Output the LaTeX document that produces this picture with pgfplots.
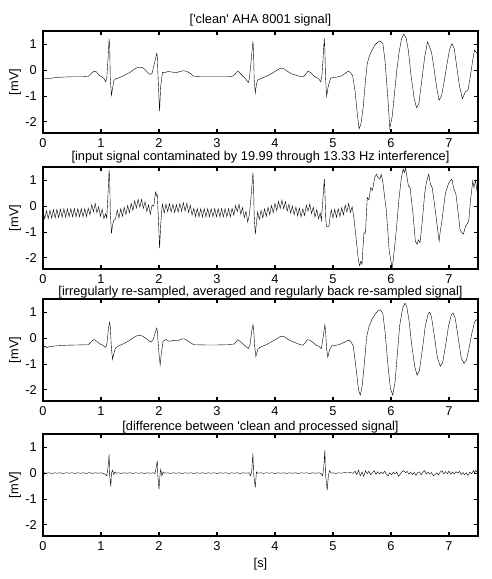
\documentclass[border=0pt]{standalone}
\usepackage{fontspec}
\setmainfont{Liberation Sans}
\usepackage{pgfplots}
\pgfplotsset{compat=1.18}
\newcommand\fs{\fontsize{12.8}{15}\selectfont}
\pgfplotsset{ecg/.style={scale only axis, width=435pt, height=102pt, anchor=north west,
  xmin=0, xmax=7.5, ymin=-2.43, ymax=1.52,
  xtick={0,1,2,3,4,5,6,7}, xticklabels={0,1,2,3,4,5,6,7},
  ytick={-2,-1,0,1}, yticklabels={-2,-1,0,1},
  tick align=inside, major tick length=4pt,
  axis line style={line width=1.1pt},
  every tick/.style={black, line width=1.1pt},
  tick label style={font=\fs, inner sep=0pt},
  xticklabel style={yshift=-5.5pt}, yticklabel style={xshift=-6pt},
  ylabel={[mV]}, ylabel style={at={(axis description cs:-0.0644,0.5)}, anchor=center, font=\fs},
  every axis title/.style={at={(axis description cs:0.5,1)}, anchor=base, font=\fs, inner sep=0pt},
  cycle list={{black, mark=none, line width=1.15pt}}}}
\begin{document}
\begin{tikzpicture}
\useasboundingbox (0,0) rectangle (491pt,-579pt);
% ---------- plot 1 ----------
\begin{axis}[ecg, at={(43pt,-31pt)}, title style={yshift=7.7pt}, title={[\textquotesingle clean\textquotesingle\ AHA 8001 signal]}]
\addplot coordinates {
(0.00,-0.34)(0.10,-0.32)(0.20,-0.29)(0.30,-0.27)(0.40,-0.26)(0.50,-0.25)(0.60,-0.25)(0.70,-0.25)
(0.78,-0.24)(0.84,-0.10)(0.88,-0.04)(0.92,-0.06)(0.96,-0.18)(1.00,-0.24)(1.05,-0.32)(1.08,-0.44)
(1.10,-0.30)(1.12,0.40)(1.14,1.22)(1.15,0.90)(1.16,-0.30)(1.18,-0.97)(1.20,-0.70)(1.22,-0.40)
(1.25,-0.33)(1.30,-0.30)(1.40,-0.20)(1.50,-0.08)(1.60,0.08)(1.66,0.12)(1.72,0.10)(1.78,-0.02)
(1.84,-0.16)(1.88,-0.12)(1.92,0.25)(1.96,0.65)(1.97,0.55)(1.99,-0.60)(2.01,-1.58)(2.03,-0.60)
(2.06,-0.08)(2.10,-0.10)(2.15,-0.05)(2.20,-0.06)(2.25,-0.08)(2.30,-0.10)(2.35,-0.05)(2.42,-0.02)
(2.48,-0.04)(2.54,-0.12)(2.60,-0.24)(2.70,-0.25)(2.80,-0.25)(3.00,-0.25)(3.20,-0.25)(3.25,-0.24)
(3.30,-0.18)(3.36,-0.03)(3.42,-0.17)(3.48,-0.30)(3.52,-0.42)(3.54,-0.48)(3.56,-0.30)(3.59,0.40)
(3.62,1.12)(3.63,0.70)(3.64,-0.30)(3.66,-0.88)(3.68,-0.55)(3.70,-0.38)(3.80,-0.28)(3.90,-0.18)
(4.00,-0.05)(4.10,0.09)(4.16,0.05)(4.22,-0.05)(4.30,-0.15)(4.40,-0.22)(4.48,-0.26)(4.52,-0.18)
(4.57,-0.03)(4.62,-0.10)(4.68,-0.25)(4.75,-0.32)(4.79,-0.45)(4.81,-0.20)(4.83,0.50)(4.85,1.23)
(4.86,0.80)(4.87,-0.20)(4.89,-1.00)(4.92,-0.60)(4.96,-0.30)(5.05,-0.27)(5.15,-0.22)(5.26,-0.04)
(5.30,-0.08)(5.34,-0.22)(5.38,-0.80)(5.42,-1.70)(5.45,-2.27)(5.48,-2.10)(5.52,-1.45)(5.56,-0.40)
(5.59,0.25)(5.62,0.50)(5.66,0.72)(5.72,0.97)(5.77,1.08)(5.81,1.14)(5.86,1.04)(5.90,0.30)
(5.94,-0.90)(5.98,-2.24)(6.02,-1.80)(6.06,-0.90)(6.10,-0.01)(6.14,0.70)(6.18,1.20)(6.22,1.40)
(6.26,1.25)(6.30,0.77)(6.34,-0.10)(6.40,-1.10)(6.44,-1.45)(6.48,-1.30)(6.53,-0.41)(6.58,0.50)
(6.63,1.10)(6.66,0.95)(6.70,0.68)(6.74,0.10)(6.79,-0.70)(6.83,-1.16)(6.87,-1.00)(6.92,-0.40)
(6.97,0.30)(7.01,0.80)(7.05,1.03)(7.09,0.85)(7.13,0.20)(7.18,-0.60)(7.23,-1.10)(7.28,-0.85)
(7.33,-0.75)(7.37,-0.20)(7.41,0.40)(7.44,0.78)(7.47,0.70)(7.50,0.60)
};
\end{axis}
% ---------- plot 2 ----------
\begin{axis}[ecg, at={(43pt,-167pt)}, title style={yshift=7pt}, title={[input signal contaminated by 19.99 through 13.33 Hz interference]}]
\addplot coordinates {
(0.00,-0.18)(0.03,-0.49)(0.06,-0.17)(0.09,-0.48)(0.12,-0.15)(0.15,-0.46)(0.18,-0.13)(0.21,-0.45)
(0.24,-0.12)(0.27,-0.44)(0.30,-0.11)(0.33,-0.43)(0.36,-0.10)(0.39,-0.42)(0.42,-0.10)(0.45,-0.41)
(0.48,-0.09)(0.51,-0.41)(0.54,-0.09)(0.57,-0.41)(0.60,-0.09)(0.63,-0.41)(0.66,-0.09)(0.69,-0.41)
(0.72,-0.09)(0.75,-0.40)(0.78,-0.08)(0.81,-0.33)(0.84,0.06)(0.87,-0.21)(0.90,0.11)(0.93,-0.25)
(0.96,-0.02)(0.99,-0.39)(1.02,-0.11)(1.05,-0.48)(1.08,-0.28)(1.10,-0.46)(1.12,0.45)(1.14,1.40)
(1.15,1.00)(1.16,-0.20)(1.18,-1.05)(1.20,-0.72)(1.22,-0.55)(1.25,-0.49)(1.28,-0.15)(1.31,-0.45)
(1.34,-0.10)(1.37,-0.39)(1.40,-0.04)(1.43,-0.32)(1.46,0.03)(1.49,-0.25)(1.52,0.11)(1.55,-0.16)
(1.58,0.21)(1.61,-0.07)(1.64,0.27)(1.67,-0.04)(1.70,0.27)(1.73,-0.08)(1.76,0.18)(1.79,-0.20)
(1.82,0.05)(1.85,-0.31)(1.88,0.04)(1.91,0.00)(1.94,0.55)(1.96,0.40)(1.97,0.45)(1.99,-0.50)
(2.01,-1.62)(2.03,-0.70)(2.05,-0.10)(2.06,0.08)(2.09,-0.26)(2.12,0.08)(2.15,-0.21)(2.18,0.10)
(2.21,-0.22)(2.24,0.08)(2.27,-0.25)(2.30,0.06)(2.33,-0.23)(2.36,0.11)(2.39,-0.19)(2.42,0.14)
(2.45,-0.19)(2.48,0.12)(2.51,-0.24)(2.54,0.04)(2.57,-0.34)(2.60,-0.08)(2.63,-0.40)(2.66,-0.09)
(2.69,-0.41)(2.72,-0.09)(2.75,-0.41)(2.78,-0.09)(2.81,-0.41)(2.84,-0.09)(2.87,-0.41)(2.90,-0.09)
(2.93,-0.41)(2.96,-0.09)(2.99,-0.41)(3.02,-0.09)(3.05,-0.41)(3.08,-0.09)(3.11,-0.41)(3.14,-0.09)
(3.17,-0.41)(3.20,-0.09)(3.23,-0.41)(3.26,-0.08)(3.29,-0.35)(3.32,0.03)(3.35,-0.21)(3.38,0.08)
(3.41,-0.31)(3.44,-0.05)(3.47,-0.44)(3.50,-0.20)(3.53,-0.61)(3.56,-0.30)(3.59,0.45)(3.62,1.30)
(3.63,0.80)(3.64,-0.30)(3.66,-1.08)(3.68,-0.65)(3.70,-0.22)(3.73,-0.51)(3.76,-0.16)(3.79,-0.45)
(3.82,-0.10)(3.85,-0.39)(3.88,-0.04)(3.91,-0.33)(3.94,0.03)(3.97,-0.25)(4.00,0.11)(4.03,-0.17)
(4.06,0.19)(4.09,-0.08)(4.12,0.24)(4.15,-0.10)(4.18,0.18)(4.21,-0.19)(4.24,0.08)(4.27,-0.27)
(4.30,0.01)(4.33,-0.33)(4.36,-0.03)(4.39,-0.37)(4.42,-0.07)(4.45,-0.41)(4.48,-0.10)(4.51,-0.36)
(4.54,0.04)(4.57,-0.19)(4.60,0.09)(4.63,-0.28)(4.66,-0.04)(4.69,-0.42)(4.72,-0.13)(4.75,-0.48)
(4.78,-0.26)(4.80,-0.55)(4.83,0.40)(4.85,1.05)(4.86,0.60)(4.875,-0.50)(4.89,-0.80)(4.93,-0.78)
(4.95,-0.40)(4.97,-0.14)(5.00,-0.45)(5.03,-0.12)(5.06,-0.43)(5.09,-0.09)(5.12,-0.40)(5.15,-0.06)
(5.18,-0.33)(5.21,0.04)(5.24,-0.22)(5.27,0.11)(5.30,-0.24)(5.33,-0.02)(5.36,-0.44)(5.41,-1.48)
(5.44,-2.13)(5.46,-2.30)(5.48,-2.13)(5.50,-2.25)(5.52,-1.48)(5.535,-1.02)(5.56,-1.05)(5.59,0.34)
(5.62,0.25)(5.65,0.72)(5.68,0.62)(5.72,1.12)(5.75,1.24)(5.78,1.10)(5.81,1.05)(5.83,1.24)
(5.86,0.92)(5.92,-0.18)(5.97,-1.74)(6.00,-2.13)(6.02,-2.40)(6.04,-2.05)(6.09,-0.96)(6.14,0.34)
(6.18,1.12)(6.21,1.44)(6.23,1.31)(6.25,1.48)(6.30,0.79)(6.33,0.72)(6.38,-0.31)(6.42,-1.35)
(6.45,-1.48)(6.47,-1.30)(6.50,-1.41)(6.54,-0.57)(6.58,0.47)(6.61,0.92)(6.65,1.24)(6.68,0.86)
(6.71,0.73)(6.75,0.08)(6.79,-0.64)(6.83,-1.35)(6.85,-0.96)(6.87,-0.70)(6.90,-0.18)(6.94,0.53)
(6.99,0.86)(7.02,0.99)(7.05,1.05)(7.08,0.70)(7.12,0.47)(7.15,-0.10)(7.19,-0.89)(7.22,-1.02)
(7.25,-1.08)(7.28,-0.80)(7.31,-0.70)(7.34,-0.57)(7.37,0.21)(7.41,0.99)(7.43,0.72)(7.46,0.99)
(7.49,0.47)(7.50,0.45)
};
\end{axis}
% ---------- plot 3 ----------
\begin{axis}[ecg, at={(43pt,-299pt)}, title style={yshift=3.2pt}, title={[irregularly re-sampled, averaged and regularly back re-sampled signal]}]
\addplot coordinates {
(0.00,-0.10)(0.02,-0.35)(0.04,-0.30)(0.06,-0.36)(0.10,-0.33)(0.20,-0.30)(0.40,-0.27)(0.60,-0.26)
(0.78,-0.25)(0.84,-0.12)(0.88,-0.05)(0.93,-0.12)(0.98,-0.22)(1.04,-0.28)(1.08,-0.35)(1.10,-0.25)
(1.13,0.40)(1.15,0.62)(1.16,0.45)(1.18,-0.40)(1.20,-0.82)(1.22,-0.60)(1.25,-0.38)(1.30,-0.30)
(1.40,-0.20)(1.50,-0.07)(1.60,0.08)(1.66,0.12)(1.72,0.08)(1.80,-0.05)(1.86,-0.15)(1.90,-0.05)
(1.94,0.25)(1.96,0.39)(1.97,0.30)(2.00,-0.60)(2.02,-1.03)(2.04,-0.60)(2.07,-0.12)(2.12,-0.05)
(2.18,-0.12)(2.25,-0.08)(2.32,-0.10)(2.40,-0.02)(2.46,-0.04)(2.52,-0.14)(2.60,-0.25)(2.80,-0.26)
(3.00,-0.26)(3.20,-0.25)(3.30,-0.22)(3.36,-0.05)(3.42,-0.17)(3.50,-0.32)(3.54,-0.40)(3.57,-0.25)
(3.60,0.30)(3.62,0.52)(3.63,0.40)(3.65,-0.30)(3.67,-0.71)(3.70,-0.45)(3.74,-0.35)(3.85,-0.25)
(4.00,-0.06)(4.10,0.08)(4.16,0.06)(4.25,-0.08)(4.40,-0.22)(4.48,-0.27)(4.52,-0.18)(4.56,-0.05)
(4.62,-0.10)(4.70,-0.25)(4.76,-0.32)(4.80,-0.40)(4.84,0.20)(4.86,0.52)(4.87,0.35)(4.89,-0.40)
(4.91,-0.74)(4.94,-0.45)(4.98,-0.30)(5.10,-0.25)(5.20,-0.15)(5.26,-0.08)(5.30,-0.10)(5.35,-0.30)
(5.40,-1.20)(5.44,-2.00)(5.47,-2.20)(5.50,-1.90)(5.54,-1.00)(5.58,0.05)(5.62,0.45)(5.67,0.72)
(5.73,0.95)(5.78,1.07)(5.82,1.10)(5.86,0.95)(5.90,0.20)(5.95,-1.10)(5.99,-1.95)(6.03,-2.20)
(6.07,-1.70)(6.11,-0.60)(6.15,0.50)(6.20,1.15)(6.24,1.36)(6.27,1.25)(6.31,0.70)(6.36,-0.30)
(6.41,-1.10)(6.45,-1.43)(6.49,-1.25)(6.54,-0.45)(6.59,0.45)(6.64,0.95)(6.67,1.01)(6.70,0.80)
(6.75,0.05)(6.80,-0.75)(6.85,-1.08)(6.89,-0.95)(6.94,-0.30)(6.99,0.45)(7.04,0.90)(7.07,0.98)
(7.11,0.75)(7.16,0.00)(7.21,-0.75)(7.26,-0.98)(7.30,-0.85)(7.34,-0.45)(7.39,0.15)(7.44,0.62)
(7.47,0.72)(7.50,0.65)
};
\end{axis}
% ---------- plot 4 ----------
\begin{axis}[ecg, at={(43pt,-434pt)}, title style={yshift=4pt}, title={[difference between \textquotesingle clean and processed signal]},
  xlabel={[s]}, xlabel style={at={(axis description cs:0.5,-0.275)}, anchor=center, font=\fs}]
\addplot coordinates {
(0.00,0.00)(0.01,-0.15)(0.02,0.02)(0.05,0.00)(0.10,0.02)(0.15,-0.01)(0.20,0.02)(0.25,0.00)
(0.30,0.02)(0.35,-0.01)(0.40,0.02)(0.45,0.00)(0.50,0.02)(0.55,-0.01)(0.60,0.02)(0.65,0.00)
(0.70,0.02)(0.75,-0.01)(0.80,0.03)(0.85,-0.01)(0.90,0.02)(0.95,0.00)(1.00,0.02)(1.05,-0.02)
(1.08,-0.05)(1.10,-0.10)(1.12,0.20)(1.14,0.73)(1.15,-0.10)(1.17,-0.52)(1.18,0.00)(1.20,0.12)
(1.22,-0.05)(1.24,0.05)(1.27,0.00)(1.30,0.02)(1.35,-0.01)(1.40,0.02)(1.45,0.00)(1.50,0.02)
(1.55,-0.01)(1.60,0.02)(1.65,0.00)(1.70,0.02)(1.75,-0.01)(1.80,0.02)(1.85,0.00)(1.90,0.02)
(1.93,-0.02)(1.95,0.20)(1.97,0.48)(1.98,-0.10)(2.00,-0.62)(2.02,0.00)(2.03,0.15)(2.05,-0.10)
(2.07,0.05)(2.10,0.00)(2.15,0.02)(2.20,-0.01)(2.25,0.02)(2.30,0.00)(2.35,0.02)(2.40,-0.01)
(2.45,0.02)(2.50,0.00)(2.55,0.02)(2.60,-0.01)(2.65,0.02)(2.70,0.00)(2.75,0.02)(2.80,-0.01)
(2.85,0.02)(2.90,0.00)(2.95,0.02)(3.00,-0.01)(3.05,0.02)(3.10,0.00)(3.15,0.02)(3.20,-0.01)
(3.25,0.02)(3.30,0.00)(3.35,0.02)(3.40,-0.01)(3.45,0.02)(3.50,0.00)(3.55,0.02)(3.58,-0.10)
(3.60,0.10)(3.62,0.77)(3.63,0.00)(3.66,-0.55)(3.68,0.05)(3.70,0.00)(3.75,0.02)(3.80,-0.01)
(3.85,0.02)(3.90,0.00)(3.95,0.02)(4.00,-0.01)(4.05,0.02)(4.10,0.00)(4.15,0.02)(4.20,-0.01)
(4.25,0.02)(4.30,0.00)(4.35,0.02)(4.40,-0.01)(4.45,0.02)(4.50,0.00)(4.55,0.02)(4.60,-0.01)
(4.65,0.02)(4.70,0.00)(4.75,0.02)(4.80,-0.02)(4.82,-0.10)(4.84,0.20)(4.86,0.90)(4.87,0.00)
(4.90,-0.65)(4.92,-0.10)(4.94,0.10)(4.97,0.00)(5.00,0.02)(5.05,-0.01)(5.10,0.02)(5.15,0.00)
(5.20,0.03)(5.25,0.01)(5.30,0.03)(5.35,0.00)(5.38,0.08)(5.41,-0.05)(5.44,0.12)(5.47,-0.10)
(5.50,0.05)(5.53,-0.12)(5.56,0.10)(5.59,-0.02)(5.62,0.08)(5.65,-0.06)(5.68,0.03)(5.71,0.10)
(5.74,-0.04)(5.77,0.06)(5.80,-0.03)(5.83,0.05)(5.86,-0.02)(5.89,0.08)(5.92,-0.05)(5.95,-0.10)
(5.98,0.02)(6.01,-0.06)(6.04,0.04)(6.07,-0.02)(6.10,0.05)(6.13,-0.12)(6.16,-0.03)(6.19,0.06)
(6.22,0.10)(6.25,0.02)(6.28,0.07)(6.31,-0.04)(6.34,0.05)(6.37,-0.05)(6.40,0.03)(6.43,-0.08)
(6.46,0.02)(6.49,0.05)(6.52,-0.06)(6.55,0.04)(6.58,0.10)(6.61,-0.02)(6.64,0.04)(6.67,-0.04)
(6.70,0.03)(6.73,-0.10)(6.76,-0.05)(6.79,0.02)(6.82,-0.06)(6.85,0.05)(6.88,0.10)(6.91,-0.03)
(6.94,0.06)(6.97,-0.02)(7.00,0.08)(7.03,-0.04)(7.06,0.05)(7.09,-0.03)(7.12,0.06)(7.15,0.01)
(7.18,0.07)(7.21,-0.05)(7.24,0.03)(7.27,-0.06)(7.30,0.02)(7.33,-0.08)(7.36,0.04)(7.39,-0.02)
(7.42,0.10)(7.44,0.02)(7.46,0.12)(7.48,0.06)(7.50,0.10)
};
\end{axis}
\end{tikzpicture}
\end{document}
